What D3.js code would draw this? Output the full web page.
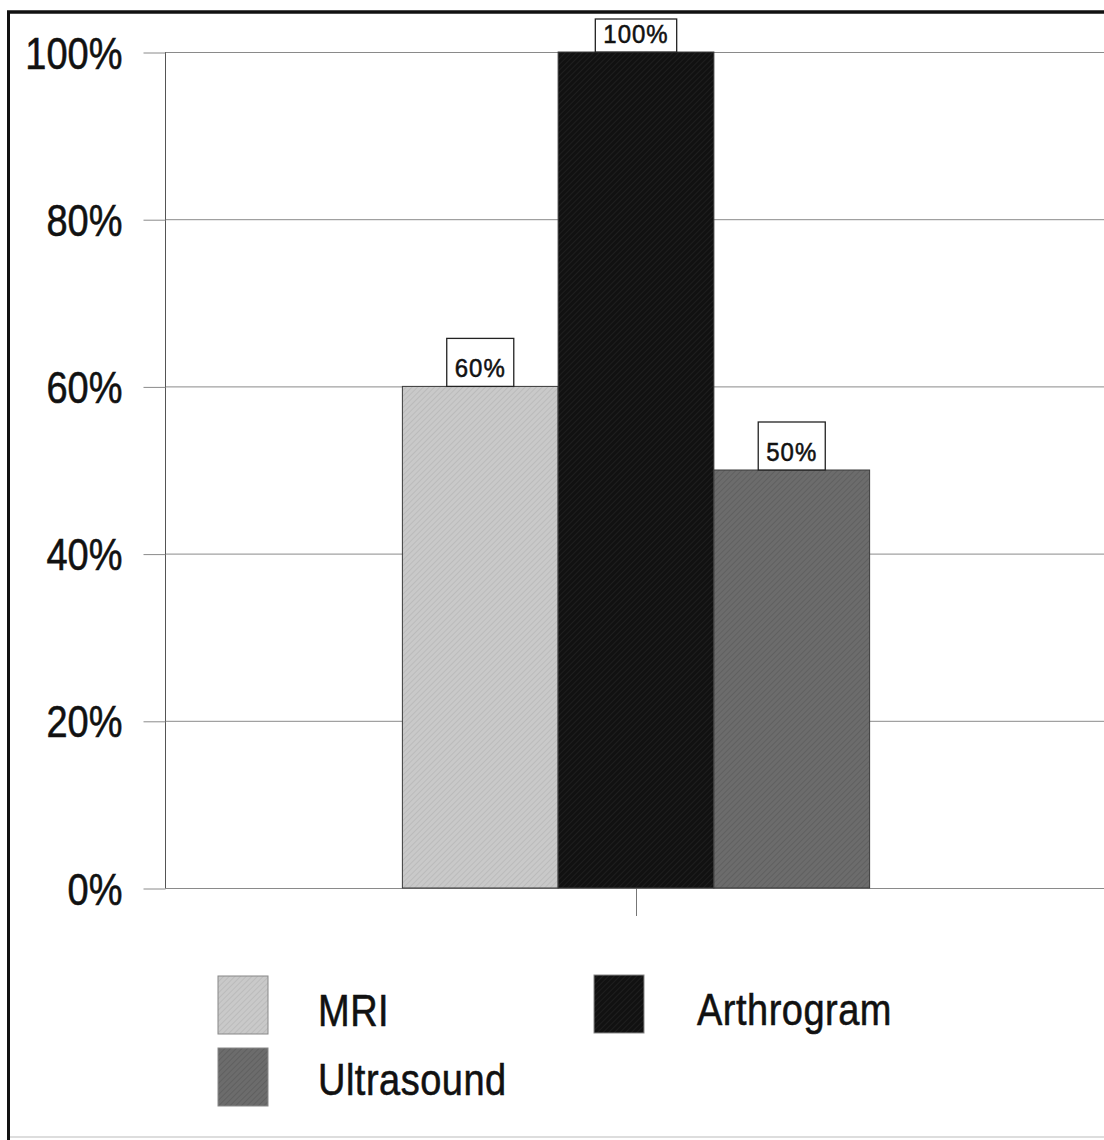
<!DOCTYPE html>
<html><head><meta charset="utf-8">
<script src="https://cdn.jsdelivr.net/npm/d3@7"></script>
<style>
html,body{margin:0;padding:0;background:#fff;}
svg{display:block;font-family:"Liberation Sans",Arial,sans-serif;}
svg text{stroke:#111;stroke-width:0.5px;}
</style></head>
<body><svg id="chart" width="1104" height="1140"></svg>
<script>
const categories = ["Diagnostic accuracy"];
const seriesNames = ["MRI", "Arthrogram", "Ultrasound"];
const seriesValues = [60, 100, 50];
const seriesColors = ["#c9c9c9", "#111111", "#6c6c6c"];
const hatchColors = ["#b2b2b2", "#262626", "#575757"];
const yTicks = [0, 20, 40, 60, 80, 100];
const yTickLabels = ["0%", "20%", "40%", "60%", "80%", "100%"];

(function () {
const svg = d3.select("#chart");
const W = 1104;
const mLeft = 165, mRight = 1107, mTop = 52, mBottom = 888;

// patterns
const defs = svg.append("defs");
seriesNames.forEach((s, i) => {
  const p = defs.append("pattern").attr("id", "pat" + i)
    .attr("patternUnits", "userSpaceOnUse").attr("width", 4).attr("height", 4)
    .attr("patternTransform", "rotate(45)");
  p.append("rect").attr("width", 4).attr("height", 4).attr("fill", seriesColors[i]);
  p.append("line").attr("x1", 0).attr("y1", 0).attr("x2", 0).attr("y2", 4)
    .attr("stroke", hatchColors[i]).attr("stroke-width", 1.2);
});

// frame
svg.append("line").attr("x1", 8.5).attr("y1", 11).attr("x2", 8.5).attr("y2", 1140)
  .attr("stroke", "#111").attr("stroke-width", 3);
svg.append("line").attr("x1", 7).attr("y1", 12).attr("x2", 1104).attr("y2", 12)
  .attr("stroke", "#111").attr("stroke-width", 3.5);
svg.append("line").attr("x1", 10).attr("y1", 1137).attr("x2", 1104).attr("y2", 1137)
  .attr("stroke", "#ddd").attr("stroke-width", 2);

const y = d3.scaleLinear().domain([0, 100]).range([mBottom, mTop]);
const x0 = d3.scaleBand().domain(categories).range([mLeft, mRight])
  .paddingInner(0.504).paddingOuter(0.252);
const x1 = d3.scaleBand().domain(seriesNames).range([0, x0.bandwidth()]).padding(0);

// gridlines
svg.append("g").selectAll("line").data(yTicks).join("line")
  .attr("x1", mLeft).attr("x2", W).attr("y1", d => y(d) + 0.5).attr("y2", d => y(d) + 0.5)
  .attr("stroke", "#8a8a8a").attr("stroke-width", 1);

// y axis
const yAxis = svg.append("g").attr("transform", `translate(${mLeft + 0.5},0)`)
  .call(d3.axisLeft(y).tickValues(yTicks).tickSize(22)
    .tickFormat(d => yTickLabels[yTicks.indexOf(d)]));
yAxis.select(".domain").attr("stroke", "#555").attr("d", `M0,${mTop}V${mBottom}`);
yAxis.selectAll(".tick line").attr("stroke", "#8a8a8a").attr("y1", 0.5).attr("y2", 0.5);
yAxis.selectAll(".tick text")
  .attr("x", null).attr("dy", null).attr("y", null)
  .attr("transform", "translate(-43,16) scale(1,1.15)")
  .attr("fill", "#111").attr("font-size", 38)
  .attr("font-family", "'Liberation Sans', Arial, sans-serif")
  .attr("text-anchor", "end");

// x axis (category tick only)
const xAxis = svg.append("g").attr("transform", `translate(0,${mBottom})`)
  .call(d3.axisBottom(x0).tickSize(28).tickFormat(""));
xAxis.select(".domain").remove();
xAxis.selectAll(".tick line").attr("stroke", "#777").attr("transform", "translate(0.5,0)");

// bars
const g = svg.append("g").attr("transform", `translate(${x0(categories[0])},0)`);
g.selectAll("rect").data(seriesValues).join("rect")
  .attr("x", (d, i) => x1(seriesNames[i]))
  .attr("y", d => y(d))
  .attr("width", x1.bandwidth())
  .attr("height", d => y(0) - y(d))
  .attr("fill", (d, i) => `url(#pat${i})`)
  .attr("stroke", "#3a3a3a").attr("stroke-width", 1);

// value labels
seriesValues.forEach((v, i) => {
  const cx = x0(categories[0]) + x1(seriesNames[i]) + x1.bandwidth() / 2;
  const barTop = y(v);
  const lg = svg.append("g");
  const box = lg.append("rect");
  const t = lg.append("text").text(v + "%")
    .attr("text-anchor", "middle").attr("font-size", 24).attr("fill", "#111")
    .attr("letter-spacing", 1)
    .attr("transform", `translate(${cx},${barTop - 9.5}) scale(1,1.1)`);
  const tw = t.node().getComputedTextLength();
  const bw = tw + 16;
  const bt = Math.max(barTop - 48, 19);
  box.attr("x", cx - bw / 2).attr("y", bt).attr("width", bw).attr("height", barTop - bt)
    .attr("fill", "#fff").attr("stroke", "#222").attr("stroke-width", 1.3);
});

// legend
const legendPos = [
  {sx: 218, sy: 976, tx: 318, ty: 1026},
  {sx: 594, sy: 975, tx: 697, ty: 1025},
  {sx: 218, sy: 1048, tx: 318, ty: 1095}
];
const leg = svg.append("g");
seriesNames.forEach((s, i) => {
  const p = legendPos[i];
  leg.append("rect").attr("x", p.sx).attr("y", p.sy).attr("width", 50).attr("height", 58)
    .attr("fill", `url(#pat${i})`).attr("stroke", "#888").attr("stroke-width", 1);
  leg.append("text").text(s).attr("font-size", 38).attr("fill", "#111")
    .attr("letter-spacing", 0.5)
    .attr("transform", `translate(${p.tx},${p.ty}) scale(1,1.15)`);
});
})();
</script></body></html>
